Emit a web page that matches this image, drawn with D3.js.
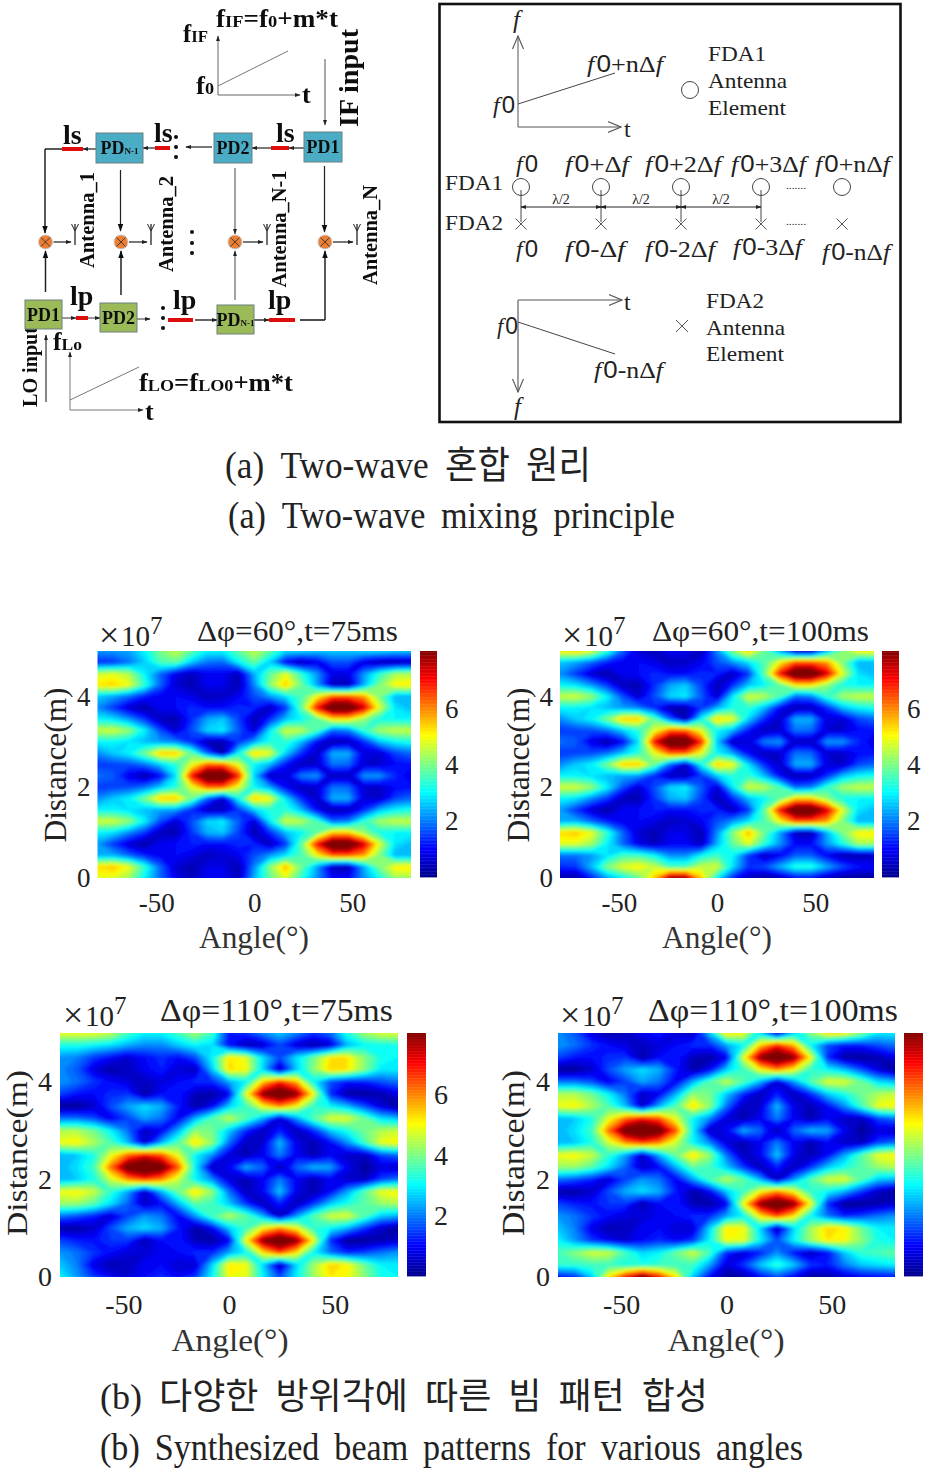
<!DOCTYPE html>
<html><head><meta charset="utf-8">
<script src="https://cdn.jsdelivr.net/npm/d3@7"></script>
<style>html,body{margin:0;background:#fff}svg{display:block}</style></head>
<body><svg id="c" width="926" height="1469" xmlns="http://www.w3.org/2000/svg"></svg>
<script>
// Heat-map values. Columns follow angleColumns, rows follow distanceRows.
const angleColumns=[-80,-72,-64,-56,-48,-40,-32,-24,-16,-8,0,8,16,24,32,40,48,56,64,72,80];
const distanceRows=[5,4.75,4.5,4.25,4,3.75,3.5,3.25,3,2.75,2.5,2.25,2,1.75,1.5,1.25,1,.75,.5,.25,0,-.25,-.5,-.75];
const beamPhase60=[
[2.2,2.2,2.3,3,4,4.6,3.8,3,3,3.8,4.6,3.8,2.8,2.8,2.6,2.6,2.6,2.8,2.8,2.6,2.6],
[1.3,1.4,1.9,2.6,3.6,3.8,2.6,1.9,1.8,3,3.8,2.6,.9,.3,.8,1.6,1.6,.7,.3,.3,.4],
[4.6,4.8,4.4,3,1.8,.8,.4,.9,.9,.4,2.4,3.8,4.8,3.4,2.2,.8,.8,2.2,3.4,4.3,4.4],
[5.2,5.4,4.9,3.4,1.8,.6,.3,.9,.8,.3,2.1,4.1,5.5,3.9,2.3,.4,.3,2.4,4,5.1,5.2],
[2.6,2.3,1.8,1.2,.9,1,.8,.4,.5,.9,1.6,2.2,2.8,3.6,5,6.4,6.4,5.8,4,2.4,2.4],
[2.1,1.4,.6,.2,.9,1,1.3,1,1,1.3,1.2,.4,1.4,3.8,7,9,9,7.4,4.8,2.8,2.5],
[3,2.8,2.2,1.4,.4,.3,1.3,2.3,2.6,1.5,.3,1.3,2.5,3,3.8,5.2,5.2,4.2,3.2,3,3],
[4.6,4.7,4.2,3,1.6,.6,1.6,2.7,2.9,1.7,.6,2.9,4.7,4.5,3.6,1.8,2,3.4,4.3,4.6,4.6],
[3,3,2.8,2.5,2.2,2,1.3,.3,.3,1.4,2.3,3.2,3.4,2.5,1,.3,.4,1.3,2.5,3,3.2],
[2.1,2.6,3,4,5.5,5.5,3.8,1.8,.3,3.1,5.4,4.9,2.7,1.3,.5,2.4,2.4,.7,.6,1.5,1.8],
[1.4,1.5,1.6,1.9,2.6,3.3,4.8,6.3,6.3,4.8,3,2.4,1.1,.4,.6,1.9,1.8,.6,.6,1,1.1],
[1.9,1.7,.8,.2,1,2.8,7,9,9,6.8,2.6,.4,.7,2,2.2,.4,.4,2.2,2.2,1.3,.7],
[1.4,1.5,1.6,1.9,2.6,3.3,4.8,6.3,6.3,4.8,3,2.3,1,.4,.6,1.9,1.8,.6,.5,1,1.1],
[2.1,2.6,3,4,5.5,5.5,3.9,1.8,.5,3.1,5.5,5,2.8,1.3,.5,2.4,2.4,.7,.5,1.5,1.8],
[3,3,2.8,2.5,2.3,2.2,1.3,.4,.4,1.4,2.6,3.3,3.4,2.5,1,.3,.4,1.3,2.5,3,3.2],
[4.7,4.7,4.2,3,1.6,.6,1.6,2.7,2.9,1.7,.6,2.9,4.7,4.5,3.6,1.8,2,3.4,4.3,4.6,4.6],
[3,2.8,2.1,1.4,.4,.3,1.4,2.4,2.6,1.5,.3,1.3,2.5,3,3.8,5.4,5.4,4.2,3.2,3,3],
[2.2,1.4,.6,.2,.9,1,1.2,1,1,1.3,1.2,.4,1.4,3.8,7,9,9,7.4,4.8,2.8,2.5],
[2.4,2.4,1.8,1.2,.9,1,.8,.4,.6,.9,1.6,2.2,2.8,3.6,5,6.4,6.4,5.8,4,2.4,2.4],
[5.3,5.5,4.9,3.4,1.8,.6,.3,.8,.8,.3,2.1,4.1,5.6,3.9,2.3,.4,.3,2.4,4,5.1,5.2],
[4.8,4.8,4.3,3,1.8,.8,.4,.9,.9,.4,2.4,3.8,4.8,3.4,2.2,1,1,2.2,3.2,4.3,4.3],
[1.9,1.9,2.2,2.8,3.5,3.5,3,2.1,2.1,3,3.5,3,1.4,.4,.9,1.7,1.7,.9,.3,.3,.4],
[1.3,1.4,2.5,4,4.8,5.1,4.6,3.6,3.6,4.6,4.7,2.8,1.4,1.6,2.4,3.3,3.3,2.4,1.6,1.1,1],
[.2,.2,1.2,2.3,3,3.8,5.5,8,8,5.5,3,1.3,.4,.1,.4,1,1,.4,.1,.1,.1]
];
const beamPhase110=[
[4.9,4.9,4.9,4.6,3.6,3,3,3.6,4.4,3.5,1.2,1.4,2.1,2.6,2.1,1.4,1.9,3.3,4.3,4.8,4.8],
[3.2,3.2,3,2.8,2.4,2.1,2.1,2.6,3,2.8,1,.3,.5,1.5,.6,.2,.6,2.4,3,3.1,3.2],
[2.2,2,1.4,1,.6,1,1.3,1,1.6,3,5.2,4.8,2.8,1.6,2.8,3.9,5.2,5.2,4.1,3.2,3],
[2.1,1.7,.7,.2,.4,.9,1.2,.6,.4,2.6,5.3,5,2.7,.3,2.6,4.1,5.4,5.2,4.1,2.9,2.9],
[2.2,1.9,1.4,1,.7,.4,.7,1,1.3,1.3,2.3,3,5.4,6.8,5.6,3,1.6,1.1,1.2,1.6,1.9],
[1.5,1.1,1,1.3,1.4,.2,1,1.2,.4,.2,.9,4.8,8,9,8,5,1.3,.2,.1,.3,.8],
[.1,.1,.5,1.6,2.3,2.8,2.4,1.2,.2,.9,2.6,3.5,5,6,5,3.4,3,2.5,1.6,.7,.1],
[1.9,1.9,1.6,.8,1.5,2.3,1.9,.9,2.4,3.7,4.6,3.7,2.4,.6,2.2,3.7,4.8,4.8,3.9,2.8,2.5],
[4.4,4.4,3.9,3,1.9,.5,.9,2.4,4.2,3.9,2.6,1.3,.4,1.2,.4,1.3,2.6,3.2,3.9,4.4,4.6],
[4.9,5.1,4.4,3.6,2.5,.5,2.4,3.7,5.3,4.2,1.9,.4,.6,2.5,.8,.3,1,2.1,3.5,4.9,5.1],
[2.4,2.6,3.2,4.8,6.2,7,6.4,4.8,3,2.1,.7,.3,.9,2,.9,.3,.9,.5,.4,1.5,1.9],
[2.4,2.8,3.5,6.2,8.6,9.2,8.6,6.4,3,.4,.9,2.4,1.8,.2,1.8,2.5,2.3,.9,.1,.7,.5],
[2.4,2.6,3.2,4.6,5.9,6.6,6,4.6,3,2.1,.7,.3,.9,2,.9,.3,.9,.5,.4,1.5,1.9],
[4.9,5.1,4.6,3.4,2.3,.5,2.4,3.9,5.3,4.2,1.9,.4,.9,2.6,.8,.3,1,2.3,3.7,4.9,5.1],
[4.2,4.2,3.7,2.8,1.8,.5,1,2.4,3.8,3.5,2.6,1.4,.4,1.2,.4,1.4,2.6,3.2,3.7,4.2,4.4],
[1.9,1.6,1.2,.6,1.5,2.2,1.9,.9,2.2,3.6,4.5,3.8,2.4,.4,2.2,3.7,4.7,4.8,3.7,2.6,2.4],
[.2,.2,.5,1.6,2.4,2.8,2.4,1.2,.2,.9,2.6,3.5,5,6,5,3.4,3,2.4,1.4,.5,.1],
[1.5,1.2,1.1,1.4,1.4,.3,1,1.2,.4,.2,.9,5,8,9,8,5,1.3,.1,.1,.3,.6],
[2.2,1.9,1.4,1,.7,.6,.9,1,1.3,1.3,2.3,3,5.2,6.5,5.2,3,1.9,1.2,1.5,1.9,2.2],
[2.6,2,.8,.3,.4,.9,1,.6,.6,2.7,5.2,5,2.7,.3,2.7,4.3,5.4,5.1,3.9,3,2.9],
[3,2.2,1.4,.9,.6,1,1.3,.9,1.4,3,5,4.9,3,1.6,3,4.3,5.2,5,4.1,3.2,3],
[3.6,4.1,4.7,4.6,3.6,2.7,3,3.9,4.7,3.6,1.3,.6,1.2,2.1,1.1,.4,1,2.6,3.4,3.6,3.8],
[3.4,3.4,3.5,3.5,3.2,3.2,3.4,3.5,3.5,2.3,.7,1.4,2.6,3.4,2.6,1.4,1.2,2,2.6,2.8,3],
[1,1.3,2.6,5.2,7,8.5,7,5.2,2.6,1,.1,.2,1,1.6,.9,.1,.2,.6,.9,1,1.1]
];
const colorMax=8.05;
const jetStops=["#00008f","#0000ff","#00ffff","#ffff00","#ff0000","#800000"];
const jetPositions=[0,.125,.375,.625,.875,1];
const angleTicks=[-50,0,50], distanceTicks=[0,2,4], colorTicks=[2,4,6];
const panelTitles=["Δφ=60°,t=75ms","Δφ=60°,t=100ms","Δφ=110°,t=75ms","Δφ=110°,t=100ms"];
const captions=["(a)\u00a0Two-wave 혼합 원리","(a)\u00a0Two-wave mixing principle","(b)\u00a0다양한 방위각에 따른 빔 패턴 합성","(b)\u00a0Synthesized beam patterns for various angles"];

const SERIF="'Liberation Serif','Noto Sans CJK KR',serif", SANS="'Liberation Sans',sans-serif";
const svg=d3.select("#c");
const defs=svg.append("defs");
defs.append("filter").attr("id","soft").attr("x","-5%").attr("y","-5%").attr("width","110%").attr("height","110%")
  .append("feGaussianBlur").attr("stdDeviation",1.7);
defs.append("filter").attr("id","fine").attr("filterUnits","userSpaceOnUse").attr("x",0).attr("y",0).attr("width",926).attr("height",1469)
  .append("feGaussianBlur").attr("stdDeviation",.45);
function marker(id,open,col,size){
  const m=defs.append("marker").attr("id",id).attr("viewBox","0 0 10 10").attr("refX",open?9.5:9).attr("refY",5)
   .attr("markerUnits","userSpaceOnUse").attr("markerWidth",size).attr("markerHeight",size).attr("orient","auto-start-reverse");
  if(open) m.append("path").attr("d","M0,1L9.5,5L0,9").attr("fill","none").attr("stroke",col).attr("stroke-width",.8);
  else m.append("path").attr("d","M0,1.5L10,5L0,8.5Z").attr("fill",col);
}
marker("solid",false,"#111",8); marker("openA",true,"#555",14);marker("tiny",false,"#222",6);

const jet=d3.scaleLinear().domain(jetPositions.map(p=>p*colorMax)).range(jetStops).clamp(true);

function txt(g,s,x,y,o={}){
  const t=g.append("text").attr("x",x).attr("y",y).attr("font-family",o.fam||SERIF).attr("font-size",o.size||22)
    .attr("fill",o.fill||"#111").text(s);
  if(o.bold)t.attr("font-weight","bold"); if(o.it)t.attr("font-style","italic");
  if(o.anchor)t.attr("text-anchor",o.anchor);
  if(o.len)t.attr("textLength",o.len).attr("lengthAdjust","spacingAndGlyphs");
  if(o.ws)t.attr("word-spacing",o.ws);
  if(o.rot)t.attr("transform",`rotate(${o.rot},${x},${y})`);
  return t;
}
// ----- heat-map panels
const panels=[
 {data:beamPhase60, shift:0,  x0:97.5,x1:411,y0:651,y1:878,cb:[420,437],tl:[197,201,641],mul:[100,646],al:[254,948],dl:[66,765],size:27,pad:7,cbLabels:true},
 {data:beamPhase60, shift:.75,x0:560,x1:874,y0:651,y1:878,cb:[882,899],tl:[652,217,641],mul:[563,646],al:[717,948],dl:[529,765],size:27,pad:7,cbLabels:true},
 {data:beamPhase110,shift:0,  x0:60,x1:398,y0:1033,y1:1277,cb:[407,426],tl:[160,233,1021],mul:[64,1026],al:[230,1351],dl:[27,1153],size:28,pad:8,cbLabels:true},
 {data:beamPhase110,shift:.75,x0:558,x1:895,y0:1033,y1:1277,cb:[904,923],tl:[648,250,1021],mul:[561,1026],al:[726,1351],dl:[524,1153],size:28,pad:8,cbLabels:false}
];
const tickFmt=d=>String(d);
panels.forEach((p,k)=>{
  const nx=angleColumns.length, ny=distanceRows.length;
  const xS=d3.scaleLinear().domain([-80,80]).range([p.x0,p.x1]);
  const yS=d3.scaleLinear().domain([0,5]).range([p.y1,p.y0]);
  const colX=d3.scaleLinear().domain([.5,nx-.5]).range([xS(angleColumns[0]),xS(angleColumns[nx-1])]);
  const rowY=d3.scaleLinear().domain([.5,ny-.5]).range([yS(distanceRows[0]+p.shift),yS(distanceRows[ny-1]+p.shift)]);
  const proj=d3.geoTransform({point(x,y){this.stream.point(colX(x),rowY(y));}});
  const path=d3.geoPath(proj);
  const levels=d3.range(0,9.4,.2);
  const cs=d3.contours().size([nx,ny]).thresholds(levels)(p.data.flat());
  defs.append("clipPath").attr("id","clip"+k).append("rect").attr("x",p.x0).attr("y",p.y0).attr("width",p.x1-p.x0).attr("height",p.y1-p.y0);
  const g=svg.append("g").attr("clip-path",`url(#clip${k})`).append("g").attr("filter","url(#soft)");
  g.selectAll("path").data(cs).join("path").attr("d",path).attr("fill",d=>jet(d.value+.1));
  // axes
  const ax=svg.append("g").attr("transform",`translate(0,${p.y1})`).call(d3.axisBottom(xS).tickValues(angleTicks).tickFormat(tickFmt).tickSize(0).tickPadding(k<2?15:17));
  const ay=svg.append("g").attr("transform",`translate(${p.x0},0)`).call(d3.axisLeft(yS).tickValues(distanceTicks).tickFormat(tickFmt).tickSize(0).tickPadding(p.pad));
  // colour bar
  const cS=d3.scaleLinear().domain([0,colorMax]).range([p.y1-1,p.y0]);
  const cb=svg.append("g");
  cb.selectAll("rect").data(d3.range(0,colorMax,.05)).join("rect").attr("x",p.cb[0]).attr("width",p.cb[1]-p.cb[0])
    .attr("y",d=>cS(d+.05)).attr("height",d=>cS(d)-cS(d+.05)+.4).attr("fill",d=>jet(d));
  if(p.cbLabels){
    const ac=svg.append("g").attr("transform",`translate(${p.cb[1]},0)`).call(d3.axisRight(cS).tickValues(colorTicks).tickFormat(tickFmt).tickSize(0).tickPadding(8));
    ac.select(".domain").remove();
    ac.selectAll("text").attr("font-family",SERIF).attr("font-size",p.size).attr("fill","#222");
  }
  [ax,ay].forEach(a=>{a.select(".domain").remove();a.selectAll("text").attr("font-family",SERIF).attr("font-size",p.size).attr("fill","#222");});
  // labels
  txt(svg,panelTitles[k],p.tl[0],p.tl[2],{size:k<2?30:31,len:p.tl[1],fill:"#222"});
  txt(svg,"×",p.mul[0]-1,p.mul[1]+1,{size:36,fill:"#222",fam:SERIF});
  txt(svg,"10",p.mul[0]+21,p.mul[1],{size:29,fill:"#222"});
  txt(svg,"7",p.mul[0]+50,p.mul[1]-12,{size:25,fill:"#222"});
  txt(svg,"Angle(°)",p.al[0],p.al[1],{size:32,anchor:"middle",fill:"#333",len:k<2?110:117});
  txt(svg,"Distance(m)",p.dl[0],p.dl[1],{size:k==2?29:32,anchor:"middle",fill:"#222",rot:-90,len:k<2?155:166});
});
// ----- captions
txt(svg,captions[0],225,478,{size:38,len:366,fill:"#222",ws:8});
txt(svg,captions[1],228,528,{size:38,len:447,fill:"#222",ws:8});
txt(svg,captions[2],100,1409,{size:36,len:608,fill:"#222",ws:8});
txt(svg,captions[3],100,1460,{size:37,len:703,fill:"#222",ws:7});

// ----- schematic (a), left: two-tone mixing network
const L=svg.append("g").attr("filter","url(#fine)");
function ln(g,x1,y1,x2,y2,o={}){
  const l=g.append("line").attr("x1",x1).attr("y1",y1).attr("x2",x2).attr("y2",y2).attr("stroke",o.c||"#222").attr("stroke-width",o.w||1.2);
  if(o.m)l.attr("marker-end",`url(#${o.m})`);
  if(o.ms)l.attr("marker-start",`url(#${o.ms})`);
  return l;
}
function box(x,y,w,h,fill,label,sub){
  L.append("rect").attr("x",x).attr("y",y).attr("width",w).attr("height",h).attr("fill",fill).attr("stroke","#6d7f80").attr("stroke-width",1);
  const t=txt(L,label,x+w/2,y+h/2+6,{size:18,bold:true,anchor:"middle"});
  if(sub)t.append("tspan").attr("font-size",9).text(sub);
}
const BLUE="#4bacc6",GREEN="#9bbb59",RED="#e01010",ORG="#ed7d31";
// chirp plots
ln(L,218,95,300,95,{c:"#666",w:1,m:"tiny"});ln(L,218,95,218,36,{c:"#666",w:1,m:"tiny"});ln(L,218,86,288,51,{c:"#777",w:1});
ln(L,70,410,143,410,{c:"#777",w:1,m:"tiny"});ln(L,70,410,70,352,{c:"#777",w:1,m:"tiny"});ln(L,70,400,139,367,{c:"#777",w:1});
function freq(x,y,s,sub,rest,size,len){
  const t=txt(L,s,x,y,{size,bold:true,len});
  t.append("tspan").attr("font-size",size*.68).text(sub);
  (rest||[]).forEach(r=>t.append("tspan").attr("font-size",r[1]?size*.68:size).text(r[0]));
  return t;
}
freq(216,27,"f","IF",[["=f",0],["0",1],["+m*t",0]],26,122);
freq(183,42,"f","IF",[],25,25);
freq(196,94,"f","0",[],25,18);
txt(L,"t",302,103,{size:26,bold:true});
freq(53,350,"f","Lo",[],25,29);
freq(139,391,"f","LO",[["=f",0],["LO0",1],["+m*t",0]],26,154);
txt(L,"t",145,420,{size:26,bold:true});
txt(L,"IF input",358,127,{size:27,bold:true,rot:-90,len:98});
txt(L,"LO input",37,407,{size:22,bold:true,rot:-90,len:80});
ln(L,325,59,325,125,{c:"#555",w:1,m:"tiny"});
ln(L,46,402,46,335,{c:"#333",w:1.2,m:"tiny"});
// top chain
ln(L,304,148,289,148,{m:"tiny"});ln(L,271,148,252,148,{m:"tiny"});ln(L,212,147,186,147,{m:"tiny"});
ln(L,155,148,143,148,{m:"tiny"});ln(L,96,149,83,149,{m:"tiny"});
ln(L,62,149,45,149,{w:1.5});ln(L,45,149,45,233,{w:1.5,m:"solid"});
ln(L,120.5,170,120.5,231,{m:"solid"});ln(L,235,168,235,234,{c:"#666",m:"tiny"});ln(L,324.5,166,324.5,232,{m:"solid"});
// bottom chain
ln(L,62,318,76,318,{c:"#555",m:"tiny"});ln(L,88,318,100,318,{c:"#555",m:"tiny"});ln(L,137,319,150,319,{c:"#555",m:"tiny"});
ln(L,195,320,217,320,{w:1.4,m:"tiny"});ln(L,254,320,269,320,{w:1.4,m:"tiny"});
ln(L,300,320,325,320,{w:1.6});ln(L,325,320,325,251,{w:1.5,m:"solid"});
ln(L,45.5,292,45.5,251,{w:1.5,m:"solid"});ln(L,121,295,121,251,{w:1.5,m:"solid"});ln(L,235,300,235,251,{c:"#666",m:"tiny"});
[[62,83,149],[155,170,148],[271,289,148],[76,88,318],[168,193,320],[269,295,320]].forEach(r=>L.append("rect").attr("x",r[0]).attr("y",r[2]-2).attr("width",r[1]-r[0]).attr("height",4).attr("fill",RED));
box(304,132,38,30,BLUE,"PD1");box(214,133,38,30,BLUE,"PD2");box(96,133,47,30,BLUE,"PD","N-1");
box(25,300,37,29,GREEN,"PD1");box(100,303,37,29,GREEN,"PD2");box(217,305,37,29,GREEN,"PD","N-1");
[[63,144],[154,142],[276,142]].forEach(p=>txt(L,"ls",p[0],p[1],{size:28,bold:true}));
[[70,305],[173,309],[268,309]].forEach(p=>txt(L,"lp",p[0],p[1],{size:28,bold:true}));
[[176,137],[176,147],[176,157],[192,232],[192,243],[192,253],[163,308],[163,318],[163,328]].forEach(p=>L.append("circle").attr("cx",p[0]).attr("cy",p[1]).attr("r",2).attr("fill","#111"));
// mixers and antennas
[[45.5,242,75,"Antenna_1",88,220,96],[121,242,151,"Antenna_2",167,224,96],[235,242,267,"Antenna_N-1",280,229,117],[325,242,357,"Antenna_N",371,235,100]].forEach(m=>{
  L.append("circle").attr("cx",m[0]).attr("cy",m[1]).attr("r",7).attr("fill",ORG).attr("stroke","#c8c8c8");
  const r=4.5;ln(L,m[0]-r,m[1]-r,m[0]+r,m[1]+r,{c:"#333",w:.9});ln(L,m[0]-r,m[1]+r,m[0]+r,m[1]-r,{c:"#333",w:.9});
  ln(L,m[0]+8,m[1],m[2]-4,m[1],{m:"tiny"});
  ln(L,m[2],m[1]+3,m[2],m[1]-18,{w:1.3});ln(L,m[2]-3.5,m[1]-18,m[2],m[1]-11,{w:1});ln(L,m[2]+3.5,m[1]-18,m[2],m[1]-11,{w:1});
  txt(L,m[3],m[4]+6,m[5],{size:20,bold:true,anchor:"middle",rot:-90,len:m[6]});
});

// ----- schematic (a), right: frequency diverse array
const R=svg.append("g");
R.append("rect").attr("x",439.5).attr("y",4).attr("width",461).attr("height",418).attr("fill","none").attr("stroke","#111").attr("stroke-width",2.6);
function fda(x,y,rest,w,size=23){
  const t=R.append("text").attr("x",x).attr("y",y).attr("font-size",size).attr("fill","#222").attr("font-family",SERIF);
  t.attr("textLength",w).attr("lengthAdjust","spacingAndGlyphs");
  t.append("tspan").attr("font-style","italic").text("f\u200a");
  t.append("tspan").attr("font-family",SANS).text("0");
  if(rest){
    t.append("tspan").text(rest);
    t.append("tspan").attr("font-style","italic").text("f");
  }
}
function plain(s,x,y,o={}){txt(R,s,x,y,Object.assign({size:22,fill:"#222"},o));}
// upper axes
ln(R,518,127,621,127,{c:"#555",w:1,m:"openA"});ln(R,518,127,518,36,{c:"#555",w:1,m:"openA"});ln(R,518,104,615,73,{c:"#444",w:1});
plain("f",513,28,{it:true,size:25});fda(587,72,"+nΔ",76);fda(493,113,"",22);plain("t",624,137,{size:24});
R.append("circle").attr("cx",690).attr("cy",90).attr("r",8.5).attr("fill","none").attr("stroke","#444");
plain("FDA1",708,61,{len:58});plain("Antenna",708,88,{len:79});plain("Element",708,115,{len:78});
// array
plain("FDA1",445,190,{len:58});plain("FDA2",445,230,{len:58});
const elementX=[521,601,681,761,842];
[["",516,172,22],["+Δ",565,172,64],["+2Δ",645,172,76],["+3Δ",731,172,75],["+nΔ",815,172,75]].forEach(a=>fda(a[1],a[2],a[0],a[3]));
[["",516,257,22],["-Δ",565,257,60],["-2Δ",645,257,70],["-3Δ",733,255,69],["-nΔ",822,260,68]].forEach(a=>fda(a[1],a[2],a[0],a[3]));
function cross(x,y,r){ln(R,x-r,y-r,x+r,y+r,{c:"#555",w:1});ln(R,x-r,y+r,x+r,y-r,{c:"#555",w:1});}
elementX.forEach((x,i)=>{
  R.append("circle").attr("cx",x).attr("cy",187).attr("r",8.5).attr("fill","none").attr("stroke","#444");
  cross(x,224,5.5);
  if(i<4)ln(R,x,190,x,222,{c:"#444",w:1});
});
ln(R,521,207,761,207,{c:"#222",w:1,m:"tiny",ms:"tiny"});
[601,681].forEach(x=>{ln(R,x-5,207,x,207,{m:"tiny",c:"#222",w:1});ln(R,x+5,207,x,207,{m:"tiny",c:"#222",w:1});});
[561,641,721].forEach(x=>plain("λ/2",x,204,{size:14,anchor:"middle"}));
[189,225].forEach(y=>plain(".......",786,y,{size:11,len:20}));
// lower axes
ln(R,518,300,622,300,{c:"#555",w:1,m:"openA"});ln(R,518,300,518,392,{c:"#888",w:1.6,m:"openA"});ln(R,518,322,615,354,{c:"#444",w:1});
plain("t",624,310,{size:24});fda(497,334,"",21);fda(594,378,"-nΔ",69);plain("f",514,415,{it:true,size:25});
cross(682,326,6);
plain("FDA2",706,308,{len:58});plain("Antenna",706,335,{len:79});plain("Element",706,361,{len:78});
</script></body></html>
